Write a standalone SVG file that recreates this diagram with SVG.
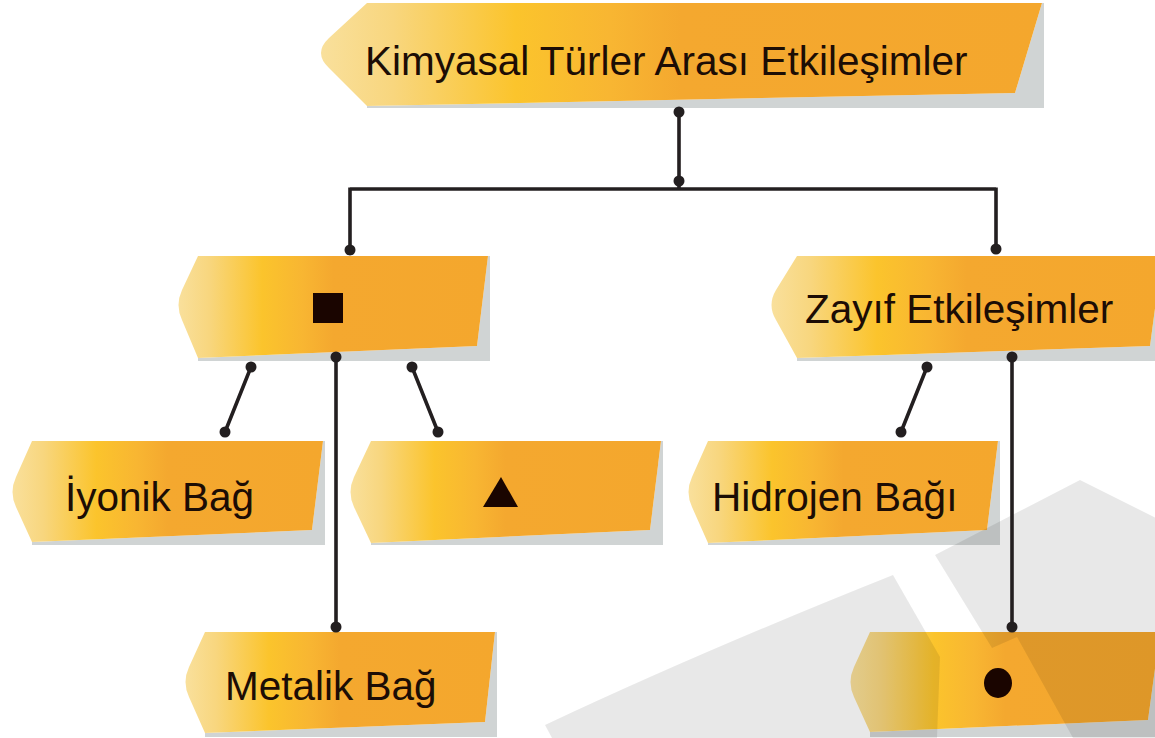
<svg xmlns="http://www.w3.org/2000/svg" width="1155" height="738" viewBox="0 0 1155 738">
<defs>
<linearGradient id="g" x1="0" y1="0" x2="1" y2="0">
<stop offset="0" stop-color="#f9e09c"/>
<stop offset="0.1" stop-color="#f8d67e"/>
<stop offset="0.27" stop-color="#fbc42c"/>
<stop offset="0.4" stop-color="#f8b632"/>
<stop offset="0.5" stop-color="#f4a82f"/>
<stop offset="1" stop-color="#f4a72d"/>
</linearGradient>
<style>
.sh{fill:#d0d4d4}
.nd{fill:url(#g)}
.t{font-family:"Liberation Sans",Arial,Helvetica,sans-serif;font-size:40.5px;fill:#1c0d05}
.c{stroke:#231f20;stroke-width:3.6;fill:none}
.d{fill:#231f20}
.ov{fill:#000;fill-opacity:0.09}
</style>
</defs>
<rect width="1155" height="738" fill="#fff"/>

<g id="n-top">
<polygon class="sh" points="367,106 1015,93 1042,3 1044,3 1044,108 367,108"/>
<path class="nd" d="M367,3 L1042,3 L1015,93 L367,106 L329,68 Q313,53 329,38 Z"/>
<text class="t" x="365" y="75">Kimyasal Türler Arası Etkileşimler</text>
</g>

<g id="n-square">
<polygon class="sh" points="198,358 477,346 488,256 490,256 490,361 198,361"/>
<path class="nd" d="M198,256 L488,256 L477,346 L198,358 L182,320 Q175,305 182,290 Z"/>
<rect x="313" y="293" width="30" height="30" fill="#1a0500"/>
</g>

<g id="n-zayif">
<polygon class="sh" points="797,358 1150,346 1162,256 1164,256 1164,361 797,361"/>
<path class="nd" d="M797,256 L1162,256 L1150,346 L797,358 L776,320 Q767,305 776,290 Z"/>
<text class="t" x="805" y="323">Zayıf Etkileşimler</text>
</g>

<g id="n-iyonik">
<polygon class="sh" points="32,542 312,530 323,441 325,441 325,545 32,545"/>
<path class="nd" d="M32,441 L323,441 L312,530 L32,542 L16,507 Q9,492 16,477 Z"/>
<text class="t" x="65" y="511">İyonik Bağ</text>
</g>

<g id="n-triangle">
<polygon class="sh" points="371,543 650,530 661,441 663,441 663,545 371,545"/>
<path class="nd" d="M371,441 L661,441 L650,530 L371,543 L354,507 Q347,492 354,477 Z"/>
<polygon points="501,477 518,507 483,507" fill="#1a0500"/>
</g>

<g id="n-hidrojen">
<polygon class="sh" points="708,543 987,530 998,441 1000,441 1000,545 708,545"/>
<path class="nd" d="M708,441 L998,441 L987,530 L708,543 L692,507 Q685,492 692,477 Z"/>
<text class="t" x="712" y="511">Hidrojen Bağı</text>
</g>

<g id="n-metalik">
<polygon class="sh" points="205,733 485,722 495,632 497,632 497,737 205,737"/>
<path class="nd" d="M205,632 L495,632 L485,722 L205,733 L189,697 Q182,682 189,667 Z"/>
<text class="t" x="225" y="700">Metalik Bağ</text>
</g>

<g id="n-circle">
<polygon class="sh" points="870,732 1148,720 1160,632 1162,632 1162,737 870,737"/>
<path class="nd" d="M870,632 L1160,632 L1148,720 L870,732 L854,697 Q847,682 854,667 Z"/>
<ellipse cx="998" cy="683" rx="14" ry="15" fill="#1a0500"/>
</g>

<g id="overlays">
<path class="ov" d="M545,725 Q700,652 893,575 L940,657 L937,738 L552,738 Z"/>
<polygon class="ov" points="935,555 1080,480 1160,520 1160,738 1073,738 1017,637 992,648"/>
</g>

<g id="connectors">
<path class="c" d="M679,112 V189 M350,189 H996 M350,187.5 V250 M996,187.5 V249"/>
<path class="c" d="M251,367 L225,432 M336,357 V627 M412,367 L438,432"/>
<path class="c" d="M927,367 L901,432 M1012,357 V627"/>
<circle class="d" cx="679" cy="112" r="5.5"/>
<circle class="d" cx="679" cy="181" r="5.5"/>
<circle class="d" cx="350" cy="250" r="5.5"/>
<circle class="d" cx="996" cy="249" r="5.5"/>
<circle class="d" cx="251" cy="367" r="5.5"/>
<circle class="d" cx="225" cy="432" r="5.5"/>
<circle class="d" cx="336" cy="357" r="5.5"/>
<circle class="d" cx="336" cy="627" r="5.5"/>
<circle class="d" cx="412" cy="367" r="5.5"/>
<circle class="d" cx="438" cy="432" r="5.5"/>
<circle class="d" cx="927" cy="367" r="5.5"/>
<circle class="d" cx="901" cy="432" r="5.5"/>
<circle class="d" cx="1012" cy="357" r="5.5"/>
<circle class="d" cx="1012" cy="627" r="5.5"/>
</g>
</svg>
